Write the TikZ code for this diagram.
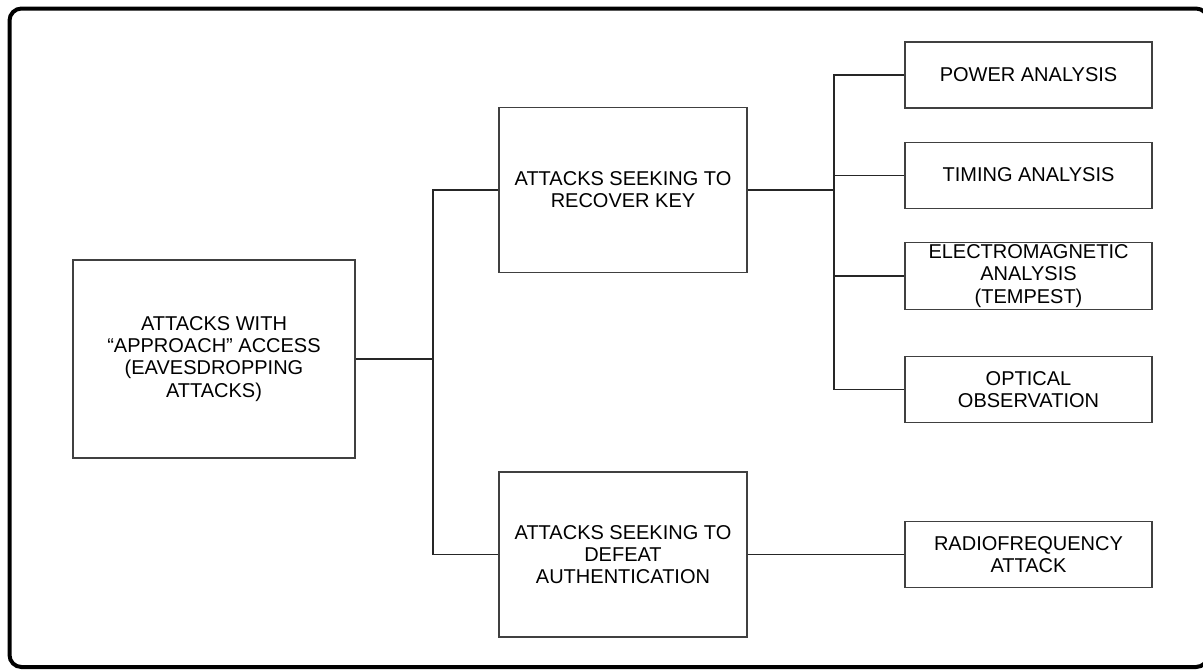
\documentclass[tikz,border=0pt]{standalone}
\usepackage{fontspec}
\setmainfont{Liberation Sans}
\usetikzlibrary{positioning}
\tikzset{node distance=24.75pt,
    attack/.style={
        draw=black!75,
        line width=0.8pt,
        fill=white,
        align=center,
        inner sep=2pt,
        font=\fontsize{15pt}{16.6pt}\selectfont},
    rootbox/.style={attack,
        minimum width=211.5pt,
        minimum height=148.5pt},
    midbox/.style={attack,
        minimum width=186pt,
        minimum height=123.75pt},
    leafbox/.style={attack,
        minimum width=185.25pt,
        minimum height=49.5pt},
    link/.style={
        draw=black!85,
        line width=0.8pt}}

\begin{document}
\begin{tikzpicture}[x=0.75pt,y=-0.75pt]
        \useasboundingbox (0,0) rectangle (1203,669);
        % outer frame
        \draw[line width=3pt, rounded corners=9pt] (9.5,8.5) rectangle (1208,667);
        \node[rootbox] (approach) at (214,359) {ATTACKS WITH\\“APPROACH” ACCESS\\(EAVESDROPPING\\ATTACKS)};
        \node[midbox] (recover) at (623,190) {ATTACKS SEEKING TO\\RECOVER KEY};
        \node[midbox] (defeat) at (623,554.5) {ATTACKS SEEKING TO\\DEFEAT\\AUTHENTICATION};
        \node[leafbox] (power) at (1028.5,75) {POWER ANALYSIS};
        \node[leafbox,below=of power] (timing) {TIMING ANALYSIS};
        \node[leafbox,below=of timing] (tempest) {ELECTROMAGNETIC\\ANALYSIS\\(TEMPEST)};
        \node[leafbox,below=34.5pt of tempest] (optical) {OPTICAL\\OBSERVATION};
        \node[leafbox] (radio) at (1028.5,554.5) {RADIOFREQUENCY\\ATTACK};
        % bus from the root
        \coordinate (bus1) at (433,359);
        \draw[link] (approach) -- (bus1);
        \draw[link] (recover.west) -| (bus1) |- (defeat.west);
        % bus to the key leaves
        \coordinate (bus2) at (834,190);
        \draw[link] (recover) -- (bus2);
        \draw[link] (power.west) -| (bus2) |- (optical.west);
        \draw[link] (bus2 |- timing) -- (timing);
        \draw[link] (bus2 |- tempest) -- (tempest);
        %\draw[link] (bus2) -- (bus2 |- optical);
        \draw[link] (defeat) -- (radio);
    \end{tikzpicture}
\end{document}
